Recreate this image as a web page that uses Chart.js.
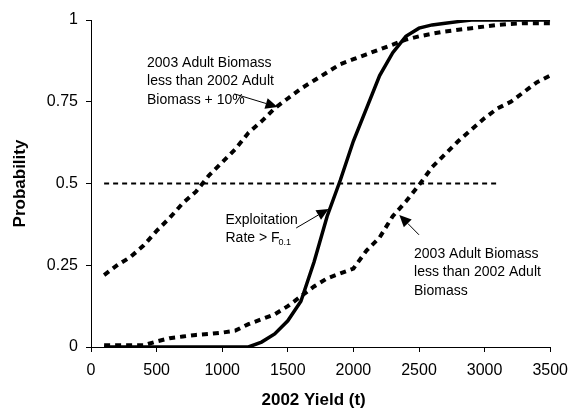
<!DOCTYPE html>
<html>
<head>
<meta charset="utf-8">
<script src="https://cdn.jsdelivr.net/npm/chart.js@4"></script>
<style>
  html, body { margin: 0; padding: 0; background: #fff; }
  canvas { display: block; }
</style>
</head>
<body>
<canvas id="myChart" width="577" height="415"></canvas>
<script>
// 2002 yield (t)
var yields = [100,200,300,400,500,600,700,800,900,1000,1100,1200,1300,1400,1500,1600,1700,1800,
  1900,2000,2100,2200,2300,2400,2500,2600,2700,2800,2900,3000,3100,3200,3300,3400,3500];

// P(2003 adult biomass < 2002 adult biomass + 10%)
var plus10 = [0.22,0.25,0.275,0.31,0.355,0.395,0.44,0.475,0.525,0.565,0.605,0.655,0.69,0.73,0.76,
  0.79,0.815,0.84,0.865,0.88,0.895,0.91,0.925,0.94,0.95,0.958,0.965,0.97,0.975,0.98,0.985,0.988,0.99,0.99,0.99];

// P(exploitation rate > F0.1)
var exploit = [0,0,0,0,0,0,0,0,0,0,0,0,0.015,0.04,0.08,0.14,0.26,0.40,0.51,0.63,0.73,0.83,0.90,0.95,
  0.975,0.985,0.99,0.995,1,1,1,1,1,1,1];

// P(2003 adult biomass < 2002 adult biomass)
var biomass = [0.005,0.005,0.005,0.005,0.017,0.027,0.032,0.037,0.04,0.044,0.05,0.07,0.085,0.10,0.125,
  0.155,0.185,0.21,0.225,0.24,0.295,0.335,0.40,0.445,0.495,0.55,0.59,0.63,0.665,0.70,0.73,0.75,0.78,0.81,0.83];

// 0.5 reference line
var refX = [100, 3100];
var refY = [0.5, 0.5];

var xTicks = [0,500,1000,1500,2000,2500,3000,3500];
var yTicks = [0,0.25,0.5,0.75,1];

function pts(xs, ys) {
  return xs.map(function (x, i) { return {x: x, y: ys[i]}; });
}

var FONT = '"Liberation Sans", Arial, sans-serif';

// annotations: text anchored in data units, arrow tail -> tip in data units
var notes = [
  {lines: ['2003 Adult Biomass', 'less than 2002 Adult', 'Biomass + 10%'], x: 427, y: 0.869,
   tail: [1093, 0.774], tip: [1422, 0.734]},
  {lines: ['Exploitation', 'Rate > F'], sub: '0.1', x: 1025, y: 0.388,
   tail: [1564, 0.364], tip: [1811, 0.422]},
  {lines: ['2003 Adult Biomass', 'less than 2002 Adult', 'Biomass'], x: 2462, y: 0.284,
   tail: [2500, 0.343], tip: [2350, 0.404]}
];

var notesPlugin = {
  id: 'notes',
  afterDatasetsDraw: function (chart) {
    var c = chart.ctx, xs = chart.scales.x, ys = chart.scales.y, a = chart.chartArea;
    c.save();
    c.fillStyle = '#000';
    c.strokeStyle = '#000';
    c.textBaseline = 'middle';
    c.textAlign = 'left';
    notes.forEach(function (n) {
      var px = xs.getPixelForValue(n.x), py = ys.getPixelForValue(n.y);
      c.font = '14px ' + FONT;
      n.lines.forEach(function (t, i) {
        c.fillText(t, px, py + i * 18.5);
      });
      if (n.sub) {
        var last = n.lines[n.lines.length - 1];
        var w = c.measureText(last).width;
        c.font = '9px ' + FONT;
        c.fillText(n.sub, px + w - 1, py + (n.lines.length - 1) * 18.5 + 4);
      }
      // arrow
      var x0 = xs.getPixelForValue(n.tail[0]), y0 = ys.getPixelForValue(n.tail[1]);
      var x1 = xs.getPixelForValue(n.tip[0]), y1 = ys.getPixelForValue(n.tip[1]);
      var ang = Math.atan2(y1 - y0, x1 - x0), L = 12, W = 5.5;
      var bx = x1 - L * Math.cos(ang), by = y1 - L * Math.sin(ang);
      c.lineWidth = 1;
      c.beginPath(); c.moveTo(x0, y0); c.lineTo(bx, by); c.stroke();
      c.beginPath();
      c.moveTo(x1, y1);
      c.lineTo(bx + W * Math.sin(ang), by - W * Math.cos(ang));
      c.lineTo(bx - W * Math.sin(ang), by + W * Math.cos(ang));
      c.closePath(); c.fill();
    });
    // axis titles
    c.font = 'bold 17px ' + FONT;
    c.textAlign = 'center';
    c.fillText('2002 Yield (t)', (a.left + a.right) / 2 - 7, 400);
    c.translate(20, (a.top + a.bottom) / 2);
    c.rotate(-Math.PI / 2);
    c.fillText('Probability', 0, 0);
    c.restore();
  }
};

var ctx = document.getElementById('myChart').getContext('2d');
var chart = new Chart(ctx, {
  type: 'line',
  data: {
    datasets: [
      {data: pts(refX, refY), borderColor: '#000', borderWidth: 2, borderDash: [5, 4]},
      {data: pts(yields, plus10), borderColor: '#000', borderWidth: 4, borderDash: [6, 5]},
      {data: pts(yields, biomass), borderColor: '#000', borderWidth: 4, borderDash: [6, 5]},
      {data: pts(yields, exploit), borderColor: '#000', borderWidth: 3.5}
    ]
  },
  options: {
    responsive: false,
    animation: false,
    elements: { point: { radius: 0 }, line: { tension: 0, fill: false } },
    layout: { padding: { top: 20, right: 18, left: 0, bottom: 0 } },
    plugins: { legend: { display: false }, tooltip: { enabled: false } },
    scales: {
      x: {
        type: 'linear', min: 0, max: 3500,
        afterFit: function (s) { s.height = 68; },
        afterBuildTicks: function (s) { s.ticks = xTicks.map(function (v) { return {value: v}; }); },
        grid: { drawOnChartArea: false, drawTicks: true, tickLength: 5, color: '#000' },
        border: { color: '#000', width: 1 },
        ticks: { color: '#000', padding: 9, maxRotation: 0, font: { size: 16, family: FONT },
          callback: function (v) { return String(v); } }
      },
      y: {
        type: 'linear', min: 0, max: 1,
        afterFit: function (s) { s.width = 91; },
        afterBuildTicks: function (s) { s.ticks = yTicks.map(function (v) { return {value: v}; }); },
        grid: { drawOnChartArea: false, drawTicks: true, tickLength: 5, color: '#000' },
        border: { color: '#000', width: 1 },
        ticks: { color: '#000', padding: 8, font: { size: 16, family: FONT },
          callback: function (v) { return String(v); } }
      }
    }
  },
  plugins: [notesPlugin]
});
</script>
</body>
</html>
